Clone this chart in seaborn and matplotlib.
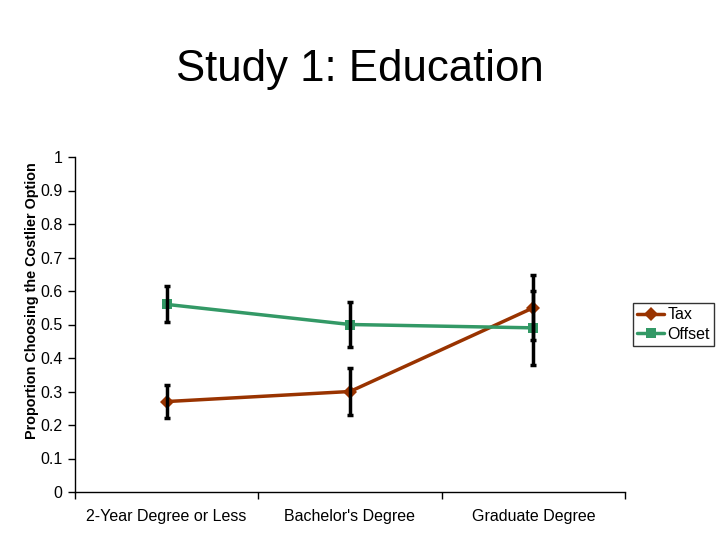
import matplotlib
matplotlib.use("Agg")
import matplotlib.pyplot as plt
import seaborn as sns
import pandas as pd
import numpy as np

categories = ["2-Year Degree or Less", "Bachelor's Degree", "Graduate Degree"]
tax_values = [0.27, 0.30, 0.55]
tax_err = [0.048, 0.071, 0.097]
offset_values = [0.56, 0.50, 0.49]
offset_err = [0.054, 0.067, 0.11]
y_ticks = [0, 0.1, 0.2, 0.3, 0.4, 0.5, 0.6, 0.7, 0.8, 0.9, 1]
y_tick_labels = ["0", "0.1", "0.2", "0.3", "0.4", "0.5", "0.6", "0.7", "0.8", "0.9", "1"]

sns.set_style("white")
plt.rcParams['font.family'] = ['Liberation Sans', 'DejaVu Sans']
plt.rcParams['text.color'] = 'black'
plt.rcParams['xtick.color'] = 'black'
plt.rcParams['ytick.color'] = 'black'

df = pd.DataFrame({
    "x": list(range(len(categories))) * 2,
    "value": tax_values + offset_values,
    "err": tax_err + offset_err,
    "series": ["Tax"] * len(categories) + ["Offset"] * len(categories),
})
palette = {"Tax": "#993300", "Offset": "#339966"}

fig = plt.figure(figsize=(7.2, 5.4), dpi=100)
ax = fig.add_axes([75/720, 1-492/540, 550/720, 335/540])

for name, marker in [("Tax", "D"), ("Offset", "s")]:
    sub = df[df.series == name]
    sns.lineplot(data=sub, x="x", y="value", color=palette[name], marker=marker,
                 markersize=7, linewidth=2.5, markeredgewidth=0, label=name, ax=ax)
    ax.errorbar(sub["x"], sub["value"], yerr=sub["err"], fmt="none", ecolor="black",
                elinewidth=2.5, capsize=2.5, capthick=2.5, zorder=5)

ax.set_xlim(-0.5, 2.5)
ax.set_ylim(0, 1)
ax.set_yticks(y_ticks)
ax.set_yticklabels(y_tick_labels, fontsize=11.5)
ax.set_xticks(range(len(categories)))
ax.set_xticklabels(categories, fontsize=11.5)
ax.set_xticks([-0.5, 0.5, 1.5, 2.5], minor=True)
ax.tick_params(axis="x", which="major", length=0, pad=12)
ax.tick_params(axis="x", which="minor", length=5, width=1, direction="out", color="black", bottom=True)
ax.tick_params(axis="y", length=5, width=1, direction="out", color="black", left=True, pad=4)
ax.set_xlabel("")
ax.set_ylabel("")
for s in ["top", "right"]:
    ax.spines[s].set_visible(False)
for s in ["left", "bottom"]:
    ax.spines[s].set_color("black")
    ax.spines[s].set_linewidth(1)

fig.text(0.045, 1-301/540, "Proportion Choosing the Costlier Option", rotation=90,
         ha="center", va="center", fontsize=10.4, fontweight="bold")
fig.text(0.5, 1-70/540, "Study 1: Education", ha="center", va="center", fontsize=31.5)

leg = ax.legend(loc="center left", bbox_to_anchor=(633/720, 1-324.5/540),
                bbox_transform=fig.transFigure, frameon=True, fancybox=False,
                fontsize=11.5, handlelength=1.7, handletextpad=0.2, borderpad=0.25,
                labelspacing=0.3, borderaxespad=0)
leg.get_frame().set_edgecolor("black")
leg.get_frame().set_linewidth(1)

fig.savefig("out.png", dpi=100)
